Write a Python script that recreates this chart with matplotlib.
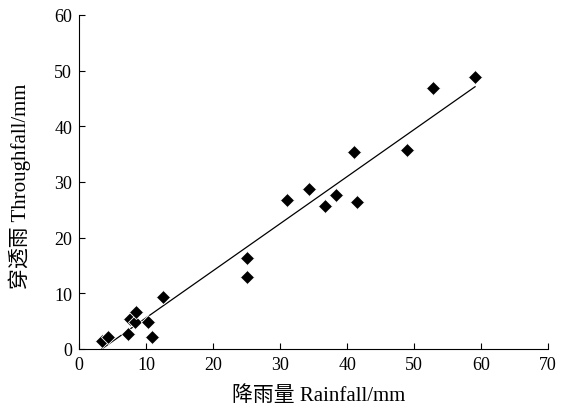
import matplotlib
matplotlib.use("Agg")
import matplotlib.pyplot as plt
import numpy as np

# rainfall (x) vs throughfall (y), mm
rainfall = [3.4, 4.3, 7.3, 7.6, 8.4, 8.5, 10.3, 10.9, 12.5, 25.0, 25.0,
            31.0, 34.3, 36.7, 38.4, 41.0, 41.5, 49.0, 52.8, 59.1]
throughfall = [1.5, 2.1, 2.6, 5.3, 4.8, 6.6, 4.8, 2.1, 9.3, 16.3, 12.9,
               26.8, 28.7, 25.7, 27.6, 35.3, 26.4, 35.7, 46.8, 48.8]
fit_slope = 0.845
fit_intercept = -2.85

plt.rcParams["font.family"] = ["Liberation Serif", "Noto Sans CJK SC"]

fig = plt.figure(figsize=(5.61, 4.06), dpi=100)
ax = fig.add_axes([0.141, 0.138, 0.836, 0.823])

xf = np.array([min(rainfall), max(rainfall)])
ax.plot(xf, fit_slope * xf + fit_intercept, color="black", lw=0.9, zorder=2)
ax.plot(rainfall, throughfall, "D", color="black", markersize=7.5,
        markeredgecolor="white", markeredgewidth=0.6, zorder=3)

ax.set_xlim(0, 70)
ax.set_ylim(0, 60)
ax.set_xticks(range(0, 71, 10))
ax.set_yticks(range(0, 61, 10))
ax.tick_params(direction="in", length=4, width=0.8, labelsize=13, pad=5)
for s in ("top", "right"):
    ax.spines[s].set_visible(False)
for s in ("left", "bottom"):
    ax.spines[s].set_linewidth(0.8)

ax.set_xlabel("降雨量 Rainfall/mm", fontsize=15)
ax.set_ylabel("穿透雨 Throughfall/mm", fontsize=15)
ax.xaxis.set_label_coords(0.51, -0.108)
ax.yaxis.set_label_coords(-0.102, 0.49)

fig.savefig("out.png", dpi=100)
